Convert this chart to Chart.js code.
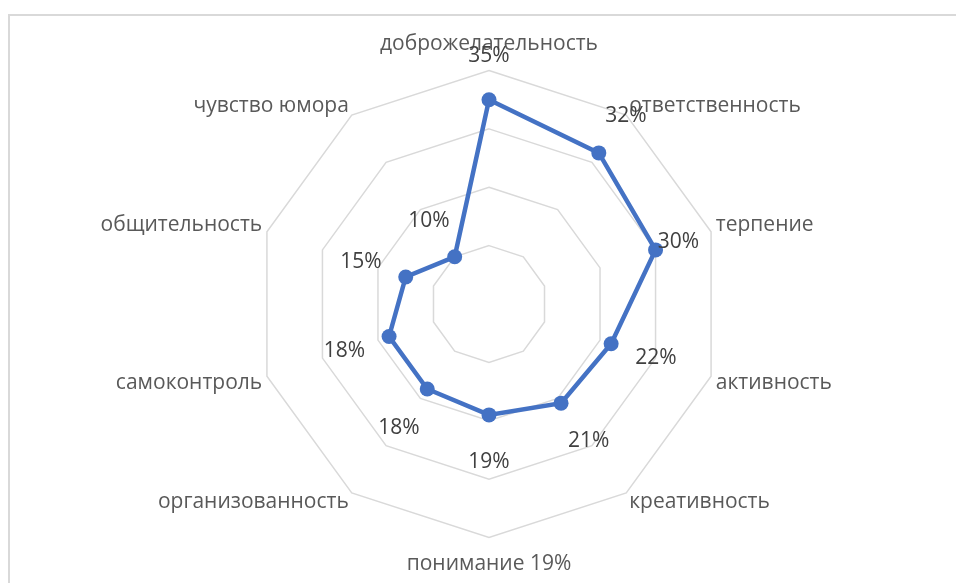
<!DOCTYPE html>
<html lang="ru">
<head>
<meta charset="utf-8">
<title>Радар</title>
<script src="https://cdn.jsdelivr.net/npm/chart.js@4/dist/chart.umd.min.js"></script>
<style>
  html, body { margin: 0; padding: 0; background: #fff; overflow: hidden; }
  #frame {
    position: absolute; left: 8px; top: 14px;
    width: 1000px; height: 700px;
    border-left: 2px solid #d9d9d9; border-top: 2px solid #d9d9d9;
  }
  #wrap { position: absolute; left: 0; top: 0; width: 956px; height: 583px; }
</style>
</head>
<body>
<div id="frame"></div>
<div id="wrap"><canvas id="grafico"></canvas></div>
<script>
// категории и значения (в процентах)
const kachestva = [
  "доброжелательность", "ответственность", "терпение", "активность", "креативность",
  "понимание 19%", "организованность", "самоконтроль", "общительность", "чувство юмора"
];
const procenty = [35, 32, 30, 22, 21, 19, 18, 18, 15, 10];
const shkala = [0, 10, 20, 30, 40];

// смещение подписей значений от точки, px
const otstupy = [44, 46, 24, 47, 47, 47, 48, 47, 47, 44];

const SHRIFT = "'Open Sans', 'Noto Sans', sans-serif";

const podpisiZnacheniy = {
  id: "podpisiZnacheniy",
  afterDatasetsDraw(chart) {
    const scale = chart.scales.r;
    const ctx = chart.ctx;
    ctx.save();
    ctx.font = "21px " + SHRIFT;
    ctx.fillStyle = "#404040";
    ctx.textAlign = "center";
    ctx.textBaseline = "middle";
    procenty.forEach((v, i) => {
      const d = scale.getDistanceFromCenterForValue(v) + otstupy[i];
      const p = scale.getPointPosition(i, d);
      ctx.fillText(v + "%", p.x, p.y);
    });
    ctx.restore();
  }
};

new Chart(document.getElementById("grafico"), {
  type: "radar",
  data: {
    labels: kachestva,
    datasets: [{
      data: procenty,
      borderColor: "#4472c4",
      backgroundColor: "#4472c4",
      borderWidth: 4.5,
      pointRadius: 7.5,
      pointHoverRadius: 7.5,
      pointBackgroundColor: "#4472c4",
      pointBorderWidth: 0,
      fill: false,
      tension: 0
    }]
  },
  options: {
    responsive: true,
    maintainAspectRatio: false,
    animation: false,
    layout: { padding: { left: 23, right: 0, top: 39, bottom: 14 } },
    plugins: {
      legend: { display: false },
      tooltip: { enabled: false }
    },
    scales: {
      r: {
        min: shkala[0],
        max: shkala[shkala.length - 1],
        ticks: { display: false, stepSize: 10 },
        angleLines: { display: false },
        grid: { color: "#d9d9d9", lineWidth: 1.5 },
        pointLabels: {
          color: "#595959",
          font: { family: SHRIFT, size: 21, lineHeight: 0.5 },
          padding: ctx => (ctx.index % 5 === 0 ? 21 : 5)
        }
      }
    }
  },
  plugins: [podpisiZnacheniy]
});
</script>
</body>
</html>
